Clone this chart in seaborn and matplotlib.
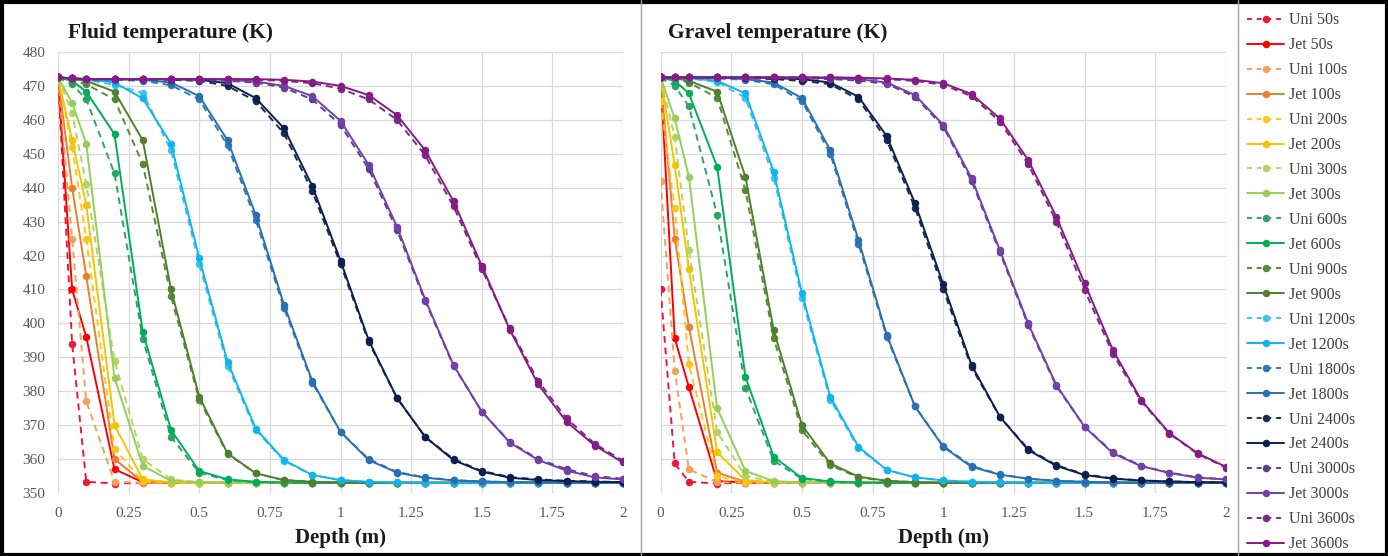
import matplotlib
matplotlib.use("Agg")
import matplotlib.pyplot as plt
from matplotlib.lines import Line2D
from matplotlib.patches import Rectangle
import seaborn as sns

# ---------------- data ----------------
DEPTH = [0, 0.05, 0.1, 0.2, 0.3, 0.4, 0.5, 0.6, 0.7, 0.8, 0.9, 1.0,
         1.1, 1.2, 1.3, 1.4, 1.5, 1.6, 1.7, 1.8, 1.9, 2.0]
TIMES = ["50s", "100s", "200s", "300s", "600s", "900s",
         "1200s", "1800s", "2400s", "3000s", "3600s"]
X_TICKS = [0, 0.25, 0.5, 0.75, 1, 1.25, 1.5, 1.75, 2]
X_TICK_LABELS = ["0", "0.25", "0.5", "0.75", "1", "1.25", "1.5", "1.75", "2"]
Y_TICKS = [350, 360, 370, 380, 390, 400, 410, 420, 430, 440, 450, 460, 470, 480]
PANEL_TITLES = ["Fluid temperature (K)", "Gravel temperature (K)"]
X_LABEL = "Depth (m)"

# Fluid temperature (K)
F_UNI_50 = [472.5, 394, 353.3, 352.8, 353, 353, 353, 353, 353, 353, 353, 353, 353, 353, 353, 353, 353, 353, 353, 353, 353, 353]
F_JET_50 = [472.5, 410, 396, 357, 353.2, 353, 353, 353, 353, 353, 353, 353, 353, 353, 353, 353, 353, 353, 353, 353, 353, 353]
F_UNI_100 = [472.5, 425, 377, 353.3, 353, 353, 353, 353, 353, 353, 353, 353, 353, 353, 353, 353, 353, 353, 353, 353, 353, 353]
F_JET_100 = [472.5, 440, 414, 360, 353.3, 353, 353, 353, 353, 353, 353, 353, 353, 353, 353, 353, 353, 353, 353, 353, 353, 353]
F_UNI_200 = [472.5, 452, 425, 363, 353.5, 353, 353, 353, 353, 353, 353, 353, 353, 353, 353, 353, 353, 353, 353, 353, 353, 353]
F_JET_200 = [472.5, 454, 435, 370, 354, 353.2, 353, 353, 353, 353, 353, 353, 353, 353, 353, 353, 353, 353, 353, 353, 353, 353]
F_UNI_300 = [472.5, 462, 441, 389, 360, 354, 353.2, 353, 353, 353, 353, 353, 353, 353, 353, 353, 353, 353, 353, 353, 353, 353]
F_JET_300 = [472.5, 465, 453, 384, 358, 353.6, 353.2, 353, 353, 353, 353, 353, 353, 353, 353, 353, 353, 353, 353, 353, 353, 353]
F_UNI_600 = [472.5, 470.5, 466, 444.2, 395.5, 366.5, 356, 353.8, 353.2, 353, 353, 353, 353, 353, 353, 353, 353, 353, 353, 353, 353, 353]
F_JET_600 = [472.5, 471.5, 468.3, 455.8, 397.5, 368.6, 356.5, 354, 353.3, 353.1, 353, 353, 353, 353, 353, 353, 353, 353, 353, 353, 353, 353]
F_UNI_900 = [472.5, 471.8, 470.5, 466, 447, 408, 377.5, 361.5, 355.8, 353.8, 353.3, 353.1, 353, 353, 353, 353, 353, 353, 353, 353, 353, 353]
F_JET_900 = [472.5, 472, 471.5, 468.3, 454, 410, 378.4, 361.7, 355.8, 353.8, 353.3, 353.1, 353, 353, 353, 353, 353, 353, 353, 353, 353, 353]
F_UNI_1200 = [472.5, 472.2, 471.8, 470.3, 468, 451, 417.5, 387.5, 368.5, 359.5, 355.3, 353.8, 353.3, 353.1, 353, 353, 353, 353, 353, 353, 353, 353]
F_JET_1200 = [472.5, 472.2, 472, 471, 466.3, 453, 419.2, 388.7, 369, 359.7, 355.3, 353.8, 353.3, 353.1, 353, 353, 353, 353, 353, 353, 353, 353]
F_UNI_1800 = [472.5, 472.2, 472, 471.8, 471.5, 470.2, 466, 452.5, 430.5, 404.5, 382.5, 368, 360, 356.2, 354.6, 353.8, 353.4, 353.2, 353.1, 353, 353, 353]
F_JET_1800 = [472.5, 472.2, 472, 472, 471.8, 471, 467, 454, 432, 405.5, 383, 368, 359.7, 356, 354.5, 353.7, 353.4, 353.2, 353.1, 353, 353, 353]
F_UNI_2400 = [472.5, 472.2, 472, 472, 472, 471.8, 471.5, 470, 465.5, 456, 439, 417.5, 394.5, 378, 366.5, 360, 356.5, 354.7, 354, 353.6, 353.4, 353.2]
F_JET_2400 = [472.5, 472.2, 472, 472, 472, 472, 471.8, 470.8, 466.4, 457.5, 440.5, 418.5, 395, 378, 366.5, 359.7, 356.3, 354.5, 353.8, 353.5, 353.3, 353.2]
F_UNI_3000 = [472.5, 472.2, 472, 472, 472, 472, 471.8, 471.5, 471, 469.5, 466, 458.5, 445.5, 427.5, 406.5, 387.5, 374, 365, 360, 357, 355, 354.2]
F_JET_3000 = [472.5, 472.2, 472, 472, 472, 472, 472, 471.8, 471.3, 470, 467, 459.7, 446.7, 428.5, 407, 387.7, 374, 364.8, 359.7, 356.6, 354.6, 354]
F_UNI_3600 = [472.5, 472.2, 472, 472, 472, 472, 472, 472, 471.8, 471.5, 470.8, 469.2, 466, 460, 449.5, 434.5, 416, 398.5, 383, 372, 364.5, 359.5]
F_JET_3600 = [472.5, 472.2, 472, 472, 472, 472, 472, 472, 472, 471.8, 471.3, 470, 467.3, 461.4, 451, 436, 417, 398, 382, 371, 364, 359]

# Gravel temperature (K)
G_UNI_50 = [410, 358.7, 353.3, 352.8, 353, 353, 353, 353, 353, 353, 353, 353, 353, 353, 353, 353, 353, 353, 353, 353, 353, 353]
G_JET_50 = [472.5, 395.6, 381.2, 353.5, 353.1, 353, 353, 353, 353, 353, 353, 353, 353, 353, 353, 353, 353, 353, 353, 353, 353, 353]
G_UNI_100 = [442, 386, 357, 353.2, 353, 353, 353, 353, 353, 353, 353, 353, 353, 353, 353, 353, 353, 353, 353, 353, 353, 353]
G_JET_100 = [472.5, 425, 399, 356, 353.3, 353, 353, 353, 353, 353, 353, 353, 353, 353, 353, 353, 353, 353, 353, 353, 353, 353]
G_UNI_200 = [465.5, 434, 388, 355, 353.2, 353, 353, 353, 353, 353, 353, 353, 353, 353, 353, 353, 353, 353, 353, 353, 353, 353]
G_JET_200 = [472.5, 446.7, 416, 362, 353.8, 353.2, 353, 353, 353, 353, 353, 353, 353, 353, 353, 353, 353, 353, 353, 353, 353, 353]
G_UNI_300 = [472, 455, 421.6, 368, 355, 353.3, 353, 353, 353, 353, 353, 353, 353, 353, 353, 353, 353, 353, 353, 353, 353, 353]
G_JET_300 = [472.5, 460.4, 443.2, 375, 356.5, 353.5, 353.1, 353, 353, 353, 353, 353, 353, 353, 353, 353, 353, 353, 353, 353, 353, 353]
G_UNI_600 = [472.5, 470, 464, 432, 381, 359.5, 354.2, 353.3, 353, 353, 353, 353, 353, 353, 353, 353, 353, 353, 353, 353, 353, 353]
G_JET_600 = [472.5, 471.5, 467.8, 446.2, 384.3, 360.7, 354.4, 353.4, 353.1, 353, 353, 353, 353, 353, 353, 353, 353, 353, 353, 353, 353, 353]
G_UNI_900 = [472.5, 472, 471, 466.5, 439.3, 395.6, 368.5, 358.2, 354.6, 353.5, 353.2, 353, 353, 353, 353, 353, 353, 353, 353, 353, 353, 353]
G_JET_900 = [472.5, 472.3, 471.5, 468.3, 443.2, 398, 370, 358.7, 354.8, 353.6, 353.2, 353, 353, 353, 353, 353, 353, 353, 353, 353, 353, 353]
G_UNI_1200 = [472.5, 472.4, 472.2, 471.2, 466.5, 443, 407.5, 377.5, 363.2, 356.8, 354.6, 353.7, 353.3, 353.1, 353, 353, 353, 353, 353, 353, 353, 353]
G_JET_1200 = [472.5, 472.5, 472.3, 471.5, 467.8, 444.7, 408.9, 378.4, 363.6, 356.8, 354.6, 353.7, 353.3, 353.1, 353, 353, 353, 353, 353, 353, 353, 353]
G_UNI_1800 = [472.5, 472.5, 472.5, 472.2, 471.8, 470.5, 465.5, 450, 423.5, 396, 375.5, 363.8, 358, 355.5, 354.2, 353.6, 353.3, 353.1, 353, 353, 353, 353]
G_JET_1800 = [472.5, 472.5, 472.5, 472.5, 472, 471, 466.4, 451.1, 424.6, 396.6, 375.5, 363.6, 357.7, 355.4, 354.2, 353.6, 353.3, 353.1, 353, 353, 353, 353]
G_UNI_2400 = [472.5, 472.5, 472.5, 472.5, 472.3, 472, 471.5, 470.5, 466, 454, 434, 410, 387, 372.5, 363, 358.2, 355.5, 354.3, 353.7, 353.4, 353.2, 353.1]
G_JET_2400 = [472.5, 472.5, 472.5, 472.5, 472.5, 472.3, 472, 471, 466.8, 455.2, 435.4, 411.5, 387.7, 372.5, 362.7, 358, 355.3, 354.2, 353.7, 353.4, 353.2, 353.1]
G_UNI_3000 = [472.5, 472.5, 472.5, 472.5, 472.5, 472.5, 472.3, 472, 471.6, 470.6, 466.8, 458, 442, 421, 399.5, 381.5, 369.5, 362, 358, 356, 354.6, 354]
G_JET_3000 = [472.5, 472.5, 472.5, 472.5, 472.5, 472.5, 472.5, 472.2, 472, 471, 467.3, 458.5, 442.8, 421.6, 400, 381.8, 369.5, 361.7, 357.9, 355.9, 354.5, 354]
G_UNI_3600 = [472.5, 472.5, 472.5, 472.5, 472.5, 472.5, 472.5, 472.5, 472.3, 472, 471.5, 470.3, 467, 459.5, 447, 430, 409.8, 391, 377, 367.5, 361.5, 357.5]
G_JET_3600 = [472.5, 472.5, 472.5, 472.5, 472.5, 472.5, 472.5, 472.5, 472.4, 472.2, 471.8, 470.8, 467.6, 460.4, 448.2, 431.4, 411.8, 392.1, 377.4, 367.6, 361.7, 357.7]

FLUID = [(F_UNI_50, F_JET_50), (F_UNI_100, F_JET_100), (F_UNI_200, F_JET_200),
         (F_UNI_300, F_JET_300), (F_UNI_600, F_JET_600), (F_UNI_900, F_JET_900),
         (F_UNI_1200, F_JET_1200), (F_UNI_1800, F_JET_1800), (F_UNI_2400, F_JET_2400),
         (F_UNI_3000, F_JET_3000), (F_UNI_3600, F_JET_3600)]
GRAVEL = [(G_UNI_50, G_JET_50), (G_UNI_100, G_JET_100), (G_UNI_200, G_JET_200),
          (G_UNI_300, G_JET_300), (G_UNI_600, G_JET_600), (G_UNI_900, G_JET_900),
          (G_UNI_1200, G_JET_1200), (G_UNI_1800, G_JET_1800), (G_UNI_2400, G_JET_2400),
          (G_UNI_3000, G_JET_3000), (G_UNI_3600, G_JET_3600)]

UNI_COLORS = ["#e8193c", "#f4a15a", "#ffc61a", "#b3d465", "#2fa366", "#5a8a35",
              "#3fc3ea", "#2f78b8", "#1b2a57", "#5c3d8f", "#7a2a82"]
JET_COLORS = ["#ff0000", "#e8802f", "#f5c400", "#96cf55", "#00ad5a", "#4f7f2f",
              "#12b4ee", "#2a70b0", "#0d1f50", "#7340a8", "#861a86"]

# ---------------- style ----------------
W, H = 1388, 556
sns.set_theme(style="white")
plt.rcParams['font.family'] = ['Liberation Serif', 'DejaVu Serif']

fig = plt.figure(figsize=(W / 100, H / 100), dpi=100)
fig.patch.set_facecolor("white")

y_top, y_bot = 52, 493
axes_px = [(58, 623), (660.6, 1226)]
axs = []
for (x0, x1) in axes_px:
    ax = fig.add_axes([x0 / W, 1 - y_bot / H, (x1 - x0) / W, (y_bot - y_top) / H])
    axs.append(ax)

TEXT_GRAY = "#404040"
MS = 5.4
for pi, (ax, data) in enumerate(zip(axs, [FLUID, GRAVEL])):
    for i, (t, (uni, jet)) in enumerate(zip(TIMES, data)):
        sns.lineplot(x=DEPTH, y=uni, ax=ax, color=UNI_COLORS[i], linestyle=(0, (3.5, 2.5)),
                     linewidth=1.4, marker="o", markersize=MS, markeredgewidth=0,
                     label="Uni " + t, legend=False)
        sns.lineplot(x=DEPTH, y=jet, ax=ax, color=JET_COLORS[i], linestyle="-",
                     linewidth=1.4, marker="o", markersize=MS, markeredgewidth=0,
                     label="Jet " + t, legend=False)
    ax.set_xlim(0, 2)
    ax.set_ylim(350, 480)
    ax.set_xticks(X_TICKS)
    ax.set_xticklabels(X_TICK_LABELS)
    ax.set_yticks(Y_TICKS)
    ax.grid(True, color="#d9d9d9", linewidth=0.9)
    ax.set_axisbelow(True)
    for s in ax.spines.values():
        s.set_visible(False)
    ax.tick_params(axis="both", length=0, labelsize=11, labelcolor="#595959", pad=9)
    ax.tick_params(axis="x", pad=10)
    if pi == 1:
        ax.set_yticklabels([])
    ax.set_xlabel(X_LABEL, fontsize=15, fontweight="bold", color="#1a1a1a", labelpad=6)
    ax.set_ylabel("")

fig.text(68 / W, 1 - 33 / H, PANEL_TITLES[0], fontsize=15.5, fontweight="bold",
         color="#1a1a1a", va="center", ha="left")
fig.text(668 / W, 1 - 33 / H, PANEL_TITLES[1], fontsize=15.5, fontweight="bold",
         color="#1a1a1a", va="center", ha="left")

# legend
handles, labels = [], []
for i, t in enumerate(TIMES):
    handles.append(Line2D([], [], color=UNI_COLORS[i], linestyle=(0, (2.5, 2.5)), linewidth=1.4,
                          marker="o", markersize=MS, markeredgewidth=0))
    labels.append("Uni " + t)
    handles.append(Line2D([], [], color=JET_COLORS[i], linestyle="-", linewidth=1.4,
                          marker="o", markersize=MS, markeredgewidth=0))
    labels.append("Jet " + t)
leg = fig.legend(handles, labels, loc="upper left", bbox_to_anchor=(1241 / W, 1 - 6 / H),
                 frameon=False, fontsize=11.5, labelspacing=0.56, handlelength=2.3,
                 handletextpad=0.3, borderaxespad=0)
for txt in leg.get_texts():
    txt.set_color(TEXT_GRAY)

# frame lines
fig.add_artist(Rectangle((1.5 / W, 1.5 / H), 1 - 3 / W, 1 - 3 / H, transform=fig.transFigure,
                         fill=False, edgecolor="black", linewidth=3))
fig.add_artist(Line2D([641 / W, 641 / W], [0, 1], transform=fig.transFigure,
                      color="#a0a0a0", linewidth=1))
fig.add_artist(Line2D([1238 / W, 1238 / W], [0, 1], transform=fig.transFigure,
                      color="#a0a0a0", linewidth=1))

fig.savefig("out.png", dpi=100)
